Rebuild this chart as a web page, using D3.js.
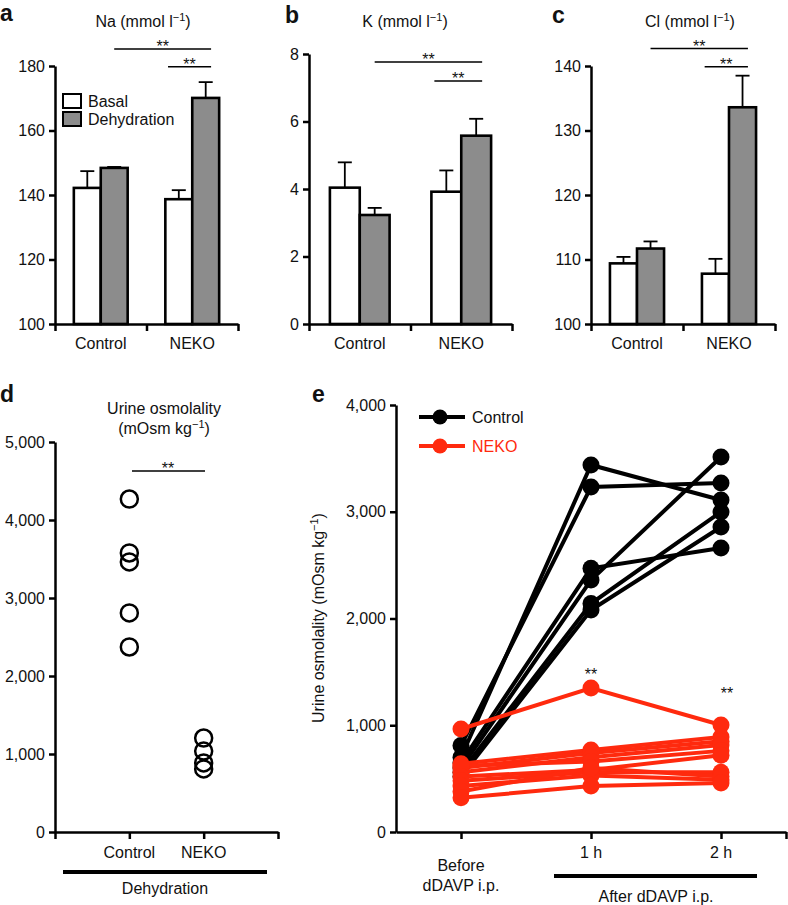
<!DOCTYPE html>
<html lang="en">
<head>
<meta charset="UTF-8">
<title>Electrolytes and urine osmolality</title>
<script src="https://d3js.org/d3.v7.min.js"></script>
<style>
  body { margin: 0; background: #fff; }
  text { font-family: "Liberation Sans", Arial, sans-serif; fill: #111; }
</style>
</head>
<body>
<script>
// ---- data ----
var groups = ["Control", "NEKO"];
var conditions = ["Basal", "Dehydration"];

// Na (mmol/l)
var naBasal = [142.2, 138.7];
var naBasalErr = [5.2, 2.8];
var naDehyd = [148.4, 170.1];
var naDehydErr = [0.3, 4.9];
var naTicks = [100, 120, 140, 160, 180];
var naSig = [185.3, 179.8];

// K (mmol/l)
var kBasal = [4.04, 3.92];
var kBasalErr = [0.75, 0.63];
var kDehyd = [3.23, 5.58];
var kDehydErr = [0.21, 0.5];
var kTicks = [0, 2, 4, 6, 8];
var kSig = [7.76, 7.2];

// Cl (mmol/l)
var clBasal = [109.4, 107.8];
var clBasalErr = [1.0, 2.3];
var clDehyd = [111.7, 133.6];
var clDehydErr = [1.1, 4.9];
var clTicks = [100, 110, 120, 130, 140];
var clSig = [142.7, 139.9];

// urine osmolality after dehydration
var dControl = [4269, 3577, 3462, 2808, 2372];
var dNeko = [1205, 1038, 885, 808];
var dTicks = [0, 1000, 2000, 3000, 4000, 5000];

// urine osmolality before / after dDAVP
var timepoints = ["Before", "1 h", "2 h"];
var eControl = [
  [700, 3438, 3110],
  [810, 3232, 3269],
  [650, 2470, 2660],
  [600, 2360, 3513],
  [560, 2140, 2998],
  [520, 2080, 2857]
];
var eNeko = [
  [965, 1349, 1002],
  [640, 768, 890],
  [600, 740, 850],
  [560, 700, 815],
  [620, 660, 760],
  [520, 580, 720],
  [480, 560, 560],
  [430, 530, 490],
  [380, 600, 520],
  [320, 430, 460]
];
var eTicks = [0, 1000, 2000, 3000, 4000];

var red = "#ff2a0e";
var fs = 16;
var starFs = 16;

var svg = d3.select("body").append("svg")
    .attr("width", 788)
    .attr("height", 905);

function superTitle(g, x, y, pre, post) {
  var t = g.append("text").attr("x", x).attr("y", y)
      .attr("text-anchor", "middle").style("font-size", fs + "px");
  t.append("tspan").text(pre);
  t.append("tspan").attr("dy", -6).style("font-size", "11px").text("\u22121");
  t.append("tspan").attr("dy", 6).text(post);
  return t;
}

function letter(x, y, s) {
  svg.append("text").attr("x", x).attr("y", y)
    .style("font-size", "23px").style("font-weight", "bold").text(s);
}

function styleAxis(g) {
  g.select(".domain").attr("stroke", "#000").attr("stroke-width", 2.5);
  g.selectAll(".tick line").attr("stroke", "#000").attr("stroke-width", 2.5);
  g.selectAll(".tick text").style("font-size", fs + "px")
    .style("font-family", "Liberation Sans, Arial, sans-serif").attr("fill", "#111");
}

// ---- bar panels a, b, c ----
function barPanel(o) {
  var y = d3.scaleLinear().domain(o.domain).range([324, o.top]);
  var x0 = d3.scaleBand().domain(groups).range([o.left, o.right]);
  var x1 = d3.scaleBand().domain(conditions).range([0, x0.bandwidth()])
      .paddingOuter(0.7);
  var bw = x1.bandwidth();
  var g = svg.append("g");

  var rows = [];
  groups.forEach(function (grp, i) {
    rows.push({g: grp, c: "Basal", v: o.basal[i], e: o.basalErr[i]});
    rows.push({g: grp, c: "Dehydration", v: o.dehyd[i], e: o.dehydErr[i]});
  });

  // error bars (upper only)
  rows.forEach(function (d) {
    var cx = x0(d.g) + x1(d.c) + bw / 2;
    g.append("line").attr("x1", cx).attr("x2", cx)
      .attr("y1", y(d.v)).attr("y2", y(d.v + d.e))
      .attr("stroke", "#000").attr("stroke-width", 1.8);
    g.append("line").attr("x1", cx - 7).attr("x2", cx + 7)
      .attr("y1", y(d.v + d.e)).attr("y2", y(d.v + d.e))
      .attr("stroke", "#000").attr("stroke-width", 1.8);
  });

  g.selectAll("rect.bar").data(rows).enter().append("rect")
    .attr("class", "bar")
    .attr("x", function (d) { return x0(d.g) + x1(d.c); })
    .attr("y", function (d) { return y(d.v); })
    .attr("width", bw)
    .attr("height", function (d) { return 324 - y(d.v); })
    .attr("fill", function (d) { return d.c === "Basal" ? "#fff" : "#8c8c8c"; })
    .attr("stroke", "#000").attr("stroke-width", 2.6);

  // y axis
  var ya = g.append("g").attr("transform", "translate(" + o.left + ",0)")
    .call(d3.axisLeft(y).tickValues(o.ticks).tickSize(6).tickSizeOuter(0)
      .tickPadding(4));
  styleAxis(ya);

  // x axis: ticks at group edges, labels at group centres
  var xl = d3.scaleLinear().domain([0, 2]).range([o.left, o.right]);
  var xa = g.append("g").attr("transform", "translate(0,324)")
    .call(d3.axisBottom(xl).tickValues([0, 1, 2]).tickSize(7).tickSizeOuter(0)
      .tickFormat(""));
  styleAxis(xa);
  groups.forEach(function (grp) {
    g.append("text").attr("x", x0(grp) + x0.bandwidth() / 2).attr("y", 349)
      .attr("text-anchor", "middle").style("font-size", fs + "px").text(grp);
  });

  // significance bars
  var cDeh = x0("Control") + x1("Dehydration") + bw / 2;
  var nBas = x0("NEKO") + x1("Basal") + bw * 0.1;
  var nEnd = x0("NEKO") + x1("Dehydration") + bw * 0.7;
  [[cDeh, o.sig[0]], [nBas, o.sig[1]]].forEach(function (s) {
    g.append("line").attr("x1", s[0]).attr("x2", nEnd)
      .attr("y1", y(s[1])).attr("y2", y(s[1]))
      .attr("stroke", "#000").attr("stroke-width", 1.5);
    g.append("text").attr("x", (s[0] + nEnd) / 2).attr("y", y(s[1]) + 3)
      .attr("text-anchor", "middle").style("font-size", starFs + "px").text("**");
  });

  superTitle(g, o.titleX, 27, o.title, ")");
  return {g: g, x0: x0, x1: x1, y: y};
}

var pa = barPanel({left: 55, right: 238, top: 66, domain: [100, 180],
  basal: naBasal, basalErr: naBasalErr, dehyd: naDehyd, dehydErr: naDehydErr,
  ticks: naTicks, sig: naSig, title: "Na (mmol l", titleX: 143});
barPanel({left: 309, right: 512, top: 54, domain: [0, 8],
  basal: kBasal, basalErr: kBasalErr, dehyd: kDehyd, dehydErr: kDehydErr,
  ticks: kTicks, sig: kSig, title: "K (mmol l", titleX: 405});
barPanel({left: 591, right: 775, top: 66, domain: [100, 140],
  basal: clBasal, basalErr: clBasalErr, dehyd: clDehyd, dehydErr: clDehydErr,
  ticks: clTicks, sig: clSig, title: "Cl (mmol l", titleX: 690});

letter(0, 21, "a");
letter(285, 23, "b");
letter(552, 23, "c");

// legend for panel a
conditions.forEach(function (c, i) {
  pa.g.append("rect").attr("x", 63).attr("y", 94 + i * 18)
    .attr("width", 18).attr("height", 14)
    .attr("fill", i === 0 ? "#fff" : "#8c8c8c")
    .attr("stroke", "#000").attr("stroke-width", 2);
  pa.g.append("text").attr("x", 88).attr("y", 107 + i * 18)
    .style("font-size", fs + "px").text(c);
});

// ---- panel d: dot plot ----
(function () {
  var y = d3.scaleLinear().domain([0, 5000]).range([832, 442]);
  var x = d3.scaleLinear().domain([-1, 2]).range([55, 278]);
  var g = svg.append("g");
  var ya = g.append("g").attr("transform", "translate(55,0)")
    .call(d3.axisLeft(y).tickValues(dTicks).tickSize(6).tickSizeOuter(0)
      .tickPadding(4).tickFormat(d3.format(",")));
  styleAxis(ya);
  var xa = g.append("g").attr("transform", "translate(0,832)")
    .call(d3.axisBottom(x).tickValues([-1, 0, 1, 2]).tickSize(7)
      .tickSizeOuter(0).tickFormat(""));
  styleAxis(xa);

  [dControl, dNeko].forEach(function (vals, i) {
    g.selectAll(null).data(vals).enter().append("circle")
      .attr("cx", x(i)).attr("cy", function (d) { return y(d); })
      .attr("r", 8.5).attr("fill", "none")
      .attr("stroke", "#000").attr("stroke-width", 2.5);
    g.append("text").attr("x", x(i)).attr("y", 858)
      .attr("text-anchor", "middle").style("font-size", fs + "px").text(groups[i]);
  });

  g.append("line").attr("x1", 63).attr("x2", 267).attr("y1", 872).attr("y2", 872)
    .attr("stroke", "#000").attr("stroke-width", 4);
  g.append("text").attr("x", 165).attr("y", 894).attr("text-anchor", "middle")
    .style("font-size", fs + "px").text("Dehydration");

  g.append("line").attr("x1", 132).attr("x2", 205).attr("y1", 471).attr("y2", 471)
    .attr("stroke", "#000").attr("stroke-width", 1.5);
  g.append("text").attr("x", 168).attr("y", 474).attr("text-anchor", "middle")
    .style("font-size", starFs + "px").text("**");

  g.append("text").attr("x", 164).attr("y", 414).attr("text-anchor", "middle")
    .style("font-size", fs + "px").text("Urine osmolality");
  superTitle(g, 164, 434, "(mOsm kg", ")");
})();
letter(0, 402, "d");

// ---- panel e: paired lines ----
(function () {
  var y = d3.scaleLinear().domain([0, 4000]).range([832, 405]);
  var x = d3.scaleLinear().domain([-0.5, 2.5]).range([396, 786]);
  var g = svg.append("g");
  var ya = g.append("g").attr("transform", "translate(396,0)")
    .call(d3.axisLeft(y).tickValues(eTicks).tickSize(6).tickSizeOuter(0)
      .tickPadding(4).tickFormat(d3.format(",")));
  styleAxis(ya);
  var xa = g.append("g").attr("transform", "translate(0,832)")
    .call(d3.axisBottom(x).tickValues([0, 1, 2, 2.5]).tickSize(7)
      .tickSizeOuter(0).tickFormat(""));
  styleAxis(xa);

  var line = d3.line()
    .x(function (d, i) { return x(i); })
    .y(function (d) { return y(d); });

  [[eControl, "#000"], [eNeko, red]].forEach(function (s) {
    g.selectAll(null).data(s[0]).enter().append("path")
      .attr("d", line).attr("fill", "none")
      .attr("stroke", s[1]).attr("stroke-width", 4);
    s[0].forEach(function (row) {
      g.selectAll(null).data(row).enter().append("circle")
        .attr("cx", function (d, i) { return x(i); })
        .attr("cy", function (d) { return y(d); })
        .attr("r", 8.5).attr("fill", s[1]);
    });
  });

  // x labels
  g.append("text").attr("x", x(0)).attr("y", 871).attr("text-anchor", "middle")
    .style("font-size", fs + "px").text("Before");
  g.append("text").attr("x", x(0)).attr("y", 891).attr("text-anchor", "middle")
    .style("font-size", fs + "px").text("dDAVP i.p.");
  [1, 2].forEach(function (i) {
    g.append("text").attr("x", x(i)).attr("y", 858).attr("text-anchor", "middle")
      .style("font-size", fs + "px").text(timepoints[i]);
  });
  g.append("line").attr("x1", 554).attr("x2", 757).attr("y1", 876).attr("y2", 876)
    .attr("stroke", "#000").attr("stroke-width", 4);
  g.append("text").attr("x", 656).attr("y", 902).attr("text-anchor", "middle")
    .style("font-size", fs + "px").text("After dDAVP i.p.");

  // stars
  g.append("text").attr("x", x(1)).attr("y", 680).attr("text-anchor", "middle")
    .style("font-size", starFs + "px").text("**");
  g.append("text").attr("x", x(2) + 6).attr("y", 699).attr("text-anchor", "middle")
    .style("font-size", starFs + "px").text("**");

  // y label
  var t = g.append("text").attr("transform", "translate(324,618) rotate(-90)")
    .attr("text-anchor", "middle").style("font-size", fs + "px");
  t.append("tspan").text("Urine osmolality (mOsm kg");
  t.append("tspan").attr("dy", -6).style("font-size", "11px").text("\u22121");
  t.append("tspan").attr("dy", 6).text(")");

  // legend
  [["Control", "#000"], ["NEKO", red]].forEach(function (l, i) {
    var ly = 417 + i * 29;
    g.append("line").attr("x1", 419).attr("x2", 465).attr("y1", ly).attr("y2", ly)
      .attr("stroke", l[1]).attr("stroke-width", 4);
    g.append("circle").attr("cx", 440).attr("cy", ly).attr("r", 7.5).attr("fill", l[1]);
    g.append("text").attr("x", 472).attr("y", ly + 6).style("font-size", fs + "px")
      .style("fill", i === 0 ? "#111" : red).text(l[0]);
  });
})();
letter(312, 402, "e");
</script>
</body>
</html>
